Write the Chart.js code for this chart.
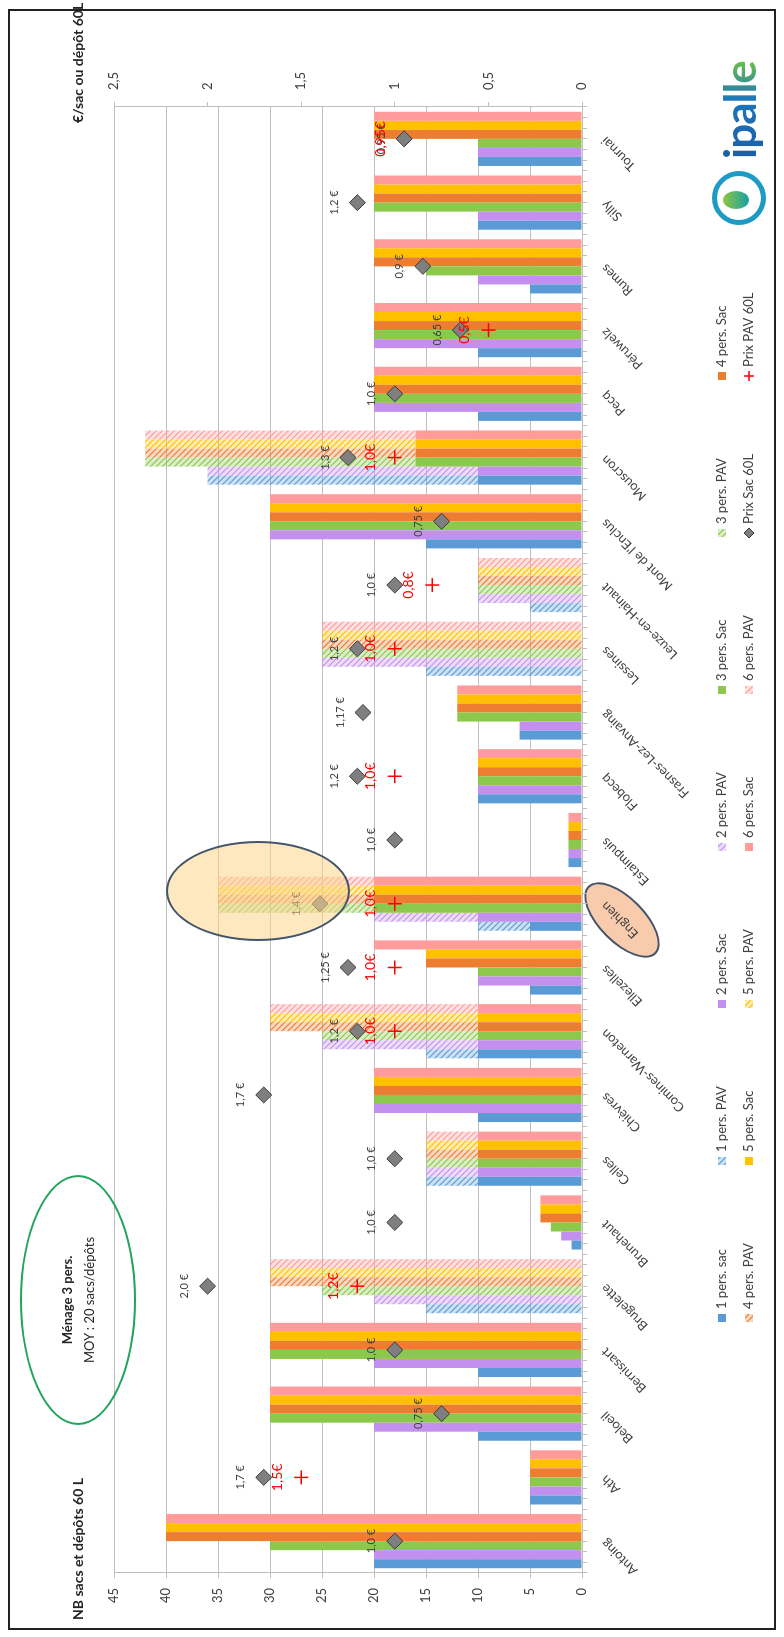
<!DOCTYPE html>
<html>
<head>
<meta charset="utf-8">
<script src="https://cdn.jsdelivr.net/npm/chart.js@4.4.1/dist/chart.umd.min.js"></script>
<style>
    html, body { margin: 0; padding: 0; background: #fff; }
    body { width: 784px; height: 1637px; overflow: hidden; position: relative; font-family: Lato, sans-serif; }
    /* the chart is drawn landscape, then turned a quarter to the left */
    #sheet { position: absolute; left: 0; top: 0; width: 1637px; height: 784px; background: #fff;
             transform-origin: 0 0; transform: translate(0, 1637px) rotate(-90deg); }
    #frame { position: absolute; left: 7px; top: 8px; width: 1617px; height: 764px; border: 2px solid #222; }
    #chart { position: absolute; left: 0; top: 0; }
    .tag { position: absolute; left: 669px; top: 599px; width: 92px; height: 42px; border-radius: 50%;
           background: #f8cbad; border: 2px solid #44546a; transform: rotate(-45deg); }
    .hilite { position: absolute; left: 696px; top: 166px; width: 100px; height: 184px; border-radius: 50%;
              background: rgba(252, 214, 140, 0.55); border: 2px solid #44546a; box-sizing: border-box; }
    .menage { position: absolute; left: 212px; top: 20px; width: 250px; height: 116px; border-radius: 50%;
              border: 2px solid #22a45d; box-sizing: border-box; display: flex; flex-direction: column;
              justify-content: center; align-items: center; font-size: 13px; color: #262626; line-height: 22px; }
    .menage b { font-size: 13px; }
    .title { position: absolute; top: 69px; font-size: 14px; font-weight: bold; color: #262626; white-space: nowrap; }
    .logo { position: absolute; left: 1412px; top: 711px; height: 56px; display: flex; align-items: center; }
    .ring { width: 44px; height: 44px; border-radius: 50%; border: 5px solid #1d9bc4; position: relative; }
    .ring::after { content: ''; position: absolute; left: 11px; top: 6px; width: 18px; height: 26px; border-radius: 50%;
                   background: linear-gradient(#8dc63f, #1aa0a8); }
    .logo span { margin-left: 12px; font-size: 44px; font-weight: bold; letter-spacing: -1px;
                 background: linear-gradient(90deg, #1b5fa8, #1b75bb 60%, #6cbf4a); -webkit-background-clip: text;
                 background-clip: text; color: transparent; }
</style>
</head>
<body>
<div id="sheet">
    <div id="frame"></div>
    <div class="tag"></div>
    <canvas id="chart" width="1637" height="784"></canvas>
    <div class="hilite"></div>
    <div class="menage"><b>Ménage 3 pers.</b><span>MOY : 20 sacs/dépôts</span></div>
    <div class="title" style="left:17px">NB sacs et dépôts 60 L</div>
    <div class="title" style="left:1514px">€/sac ou dépôt 60L</div>
    <div class="logo"><div class="ring"></div><span>ipalle</span></div>
</div>
<script>
const communes = ['Antoing', 'Ath', 'Beloeil', 'Bernissart', 'Brugelette', 'Brunehaut', 'Celles', 'Chièvres',
    'Comines-Warneton', 'Ellezelles', 'Enghien', 'Estaimpuis', 'Flobecq', 'Frasnes-Lez-Anvaing', 'Lessines',
    'Leuze-en-Hainaut', "Mont de l'Enclus", 'Mouscron', 'Pecq', 'Péruwelz', 'Rumes', 'Silly', 'Tournai'];

// sacs per household size
const sac1 = [20, 5, 10, 10, 0, 1, 10, 10, 10, 5, 5, 1.3, 10, 6, 0, 0, 15, 10, 10, 10, 5, 10, 10];
const sac2 = [20, 5, 20, 20, 0, 2, 10, 20, 10, 10, 10, 1.3, 10, 6, 0, 0, 30, 10, 20, 20, 10, 10, 10];
const sac3 = [30, 5, 30, 30, 0, 3, 10, 20, 10, 10, 20, 1.3, 10, 12, 0, 0, 30, 16, 20, 20, 15, 20, 10];
const sac4 = [40, 5, 30, 30, 0, 4, 10, 20, 10, 15, 20, 1.3, 10, 12, 0, 0, 30, 16, 20, 20, 20, 20, 20];
const sac5 = [40, 5, 30, 30, 0, 4, 10, 20, 10, 15, 20, 1.3, 10, 12, 0, 0, 30, 16, 20, 20, 20, 20, 20];
const sac6 = [40, 5, 30, 30, 0, 4, 10, 20, 10, 20, 20, 1.3, 10, 12, 0, 0, 30, 16, 20, 20, 20, 20, 20];

// dépôts PAV per household size
const pav1 = [0, 0, 0, 0, 15, 0, 5, 0, 5, 0, 5, 0, 0, 0, 15, 5, 0, 26, 0, 0, 0, 0, 0];
const pav2 = [0, 0, 0, 0, 20, 0, 5, 0, 15, 0, 10, 0, 0, 0, 25, 10, 0, 26, 0, 0, 0, 0, 0];
const pav3 = [0, 0, 0, 0, 25, 0, 5, 0, 15, 0, 15, 0, 0, 0, 25, 10, 0, 26, 0, 0, 0, 0, 0];
const pav4 = [0, 0, 0, 0, 30, 0, 5, 0, 20, 0, 15, 0, 0, 0, 25, 10, 0, 26, 0, 0, 0, 0, 0];
const pav5 = [0, 0, 0, 0, 30, 0, 5, 0, 20, 0, 15, 0, 0, 0, 25, 10, 0, 26, 0, 0, 0, 0, 0];
const pav6 = [0, 0, 0, 0, 30, 0, 5, 0, 20, 0, 15, 0, 0, 0, 25, 10, 0, 26, 0, 0, 0, 0, 0];

// prices (right axis)
const prixSac = [1.0, 1.7, 0.75, 1.0, 2.0, 1.0, 1.0, 1.7, 1.2, 1.25, 1.4, 1.0, 1.2, 1.17, 1.2, 1.0, 0.75, 1.25, 1.0, 0.65, 0.85, 1.2, 0.95];
const prixPav = [null, 1.5, null, null, 1.2, null, null, null, 1.0, 1.0, 1.0, null, 1.0, null, 1.0, 0.8, null, 1.0, null, 0.5, null, null, 0.95];
const prixSacText = ['1,0 €', '1,7 €', '0,75 €', '1,0 €', '2,0 €', '1,0 €', '1,0 €', '1,7 €', '1,2 €', '1,25 €', '1,4 €', '1,0 €',
    '1,2 €', '1,17 €', '1,2 €', '1,0 €', '0,75 €', '1,3 €', '1,0 €', '0,65 €', '0,9 €', '1,2 €', '0,95 €'];
const prixPavText = ['', '1,5€', '', '', '1,2€', '', '', '', '1,0€', '1,0€', '1,0€', '', '1,0€', '', '1,0€', '0,8€', '',
    '1,0€', '', '0,5€', '', '', '0,95€'];

const leftTicks = [0, 5, 10, 15, 20, 25, 30, 35, 40, 45];
const rightTicks = ['0', '0,5', '1', '1,5', '2', '2,5'];

const sacNames = ['1 pers. sac', '2 pers. Sac', '3 pers. Sac', '4 pers. Sac', '5 pers. Sac', '6 pers. Sac'];
const pavNames = ['1 pers. PAV', '2 pers. PAV', '3 pers. PAV', '4 pers. PAV', '5 pers. PAV', '6 pers. PAV'];
const colors = ['#5b9bd5', '#c490f0', '#8cc84b', '#ed7d31', '#ffc000', '#ff9b9b'];

function hatch(color) {
    const c = document.createElement('canvas');
    c.width = 6; c.height = 6;
    const g = c.getContext('2d');
    g.globalAlpha = 0.3;
    g.fillStyle = color;
    g.fillRect(0, 0, 6, 6);
    g.globalAlpha = 1;
    g.strokeStyle = color;
    g.lineWidth = 1.2;
    g.beginPath();
    g.moveTo(0, 0); g.lineTo(6, 6);
    g.moveTo(5, -1); g.lineTo(7, 1);
    g.moveTo(-1, 5); g.lineTo(1, 7);
    g.stroke();
    return g.createPattern(c, 'repeat');
}

/* --- datasets --- */
const sacs = [sac1, sac2, sac3, sac4, sac5, sac6];
const pavs = [pav1, pav2, pav3, pav4, pav5, pav6];
const datasets = [];
for (let i = 0; i < 6; i++) {
    const common = { type: 'bar', stack: 'p' + (i + 1), xAxisID: 'x', yAxisID: 'y', borderWidth: 0,
        categoryPercentage: 0.85, barPercentage: 1, order: 1 };
    datasets.push(Object.assign({ label: sacNames[i], data: sacs[i], backgroundColor: colors[i] }, common));
    datasets.push(Object.assign({ label: pavNames[i], data: pavs[i], backgroundColor: hatch(colors[i]) }, common));
}
datasets.push({ type: 'line', label: 'Prix Sac 60L', data: prixSac, xAxisID: 'x', yAxisID: 'y2', showLine: false,
    pointStyle: 'rectRot', pointRadius: 8, pointBackgroundColor: '#7f7f7f', pointBorderColor: '#3a3a3a',
    pointBorderWidth: 1, order: 0 });
datasets.push({ type: 'line', label: 'Prix PAV 60L', data: prixPav, xAxisID: 'x', yAxisID: 'y2', showLine: false,
    pointStyle: 'cross', pointRadius: 7, pointBorderColor: '#ff0000', pointBorderWidth: 1.5, order: 0 });

/* --- price labels over the markers --- */
const priceLabels = {
    id: 'priceLabels',
    afterDatasetsDraw(chart) {
        const ctx = chart.ctx;
        const sets = [[12, prixSacText, '#404040', '11px Lato', 23], [13, prixPavText, '#ff0000', '14px Lato', 24]];
        ctx.save();
        ctx.textAlign = 'center';
        ctx.textBaseline = 'middle';
        sets.forEach(([idx, texts, color, font, off]) => {
            ctx.fillStyle = color;
            ctx.font = font;
            chart.getDatasetMeta(idx).data.forEach((pt, i) => {
                if (!texts[i] || pt.skip) return;
                ctx.fillText(texts[i], pt.x, pt.y - off);
            });
        });
        ctx.restore();
    }
};

/* --- legend: two rows of seven --- */
const legendRows = {
    id: 'legendRows',
    afterDraw(chart) {
        const ctx = chart.ctx;
        ctx.save();
        ctx.font = '13px Lato';
        ctx.textBaseline = 'middle';
        chart.data.datasets.forEach((ds, i) => {
            const x = 315 + (i % 7) * 157;
            const y = i < 7 ? 722 : 749;
            if (ds.type === 'bar') {
                ctx.fillStyle = ds.backgroundColor;
                ctx.fillRect(x, y - 4, 8, 8);
            } else if (ds.pointStyle === 'rectRot') {
                ctx.fillStyle = ds.pointBackgroundColor;
                ctx.strokeStyle = ds.pointBorderColor;
                ctx.beginPath();
                ctx.moveTo(x + 4, y - 5); ctx.lineTo(x + 9, y); ctx.lineTo(x + 4, y + 5); ctx.lineTo(x - 1, y);
                ctx.closePath(); ctx.fill(); ctx.stroke();
            } else {
                ctx.strokeStyle = ds.pointBorderColor;
                ctx.lineWidth = 1.5;
                ctx.beginPath();
                ctx.moveTo(x - 1, y); ctx.lineTo(x + 9, y); ctx.moveTo(x + 4, y - 5); ctx.lineTo(x + 4, y + 5);
                ctx.stroke();
            }
            ctx.fillStyle = '#404040';
            ctx.fillText(ds.label, x + 13, y);
        });
        ctx.restore();
    }
};

Chart.defaults.font.family = 'Lato';
Chart.defaults.color = '#404040';

new Chart(document.getElementById('chart'), {
    data: { labels: communes, datasets: datasets },
    options: {
        responsive: false,
        animation: false,
        layout: { padding: { left: 19, right: 55, top: 114, bottom: 16 } },
        plugins: { legend: { display: false }, tooltip: { enabled: false } },
        scales: {
            x: {
                type: 'category', stacked: true, position: 'bottom', weight: 1,
                grid: { display: false }, border: { display: false },
                ticks: { minRotation: 45, maxRotation: 45, autoSkip: false, padding: 2, font: { size: 13 } },
                afterFit: s => { s.height = 180; }
            },
            xt: {
                type: 'linear', position: 'bottom', weight: 0, min: 0, max: communes.length * 6,
                grid: { drawOnChartArea: false, tickLength: 5, color: '#bfbfbf' },
                border: { color: '#bfbfbf' },
                ticks: { display: false, stepSize: 1, autoSkip: false, maxTicksLimit: 500 },
                afterFit: s => { s.height = 6; }
            },
            y: {
                stacked: true, position: 'left', min: 0, max: 45,
                afterBuildTicks: s => { s.ticks = leftTicks.map(v => ({ value: v })); },
                ticks: { padding: 10, font: { size: 13 } },
                grid: { color: '#bfbfbf', tickLength: 5 },
                border: { color: '#bfbfbf' },
                afterFit: s => { s.width = 45; }
            },
            y2: {
                position: 'right', min: 0, max: 2.5,
                afterBuildTicks: s => { s.ticks = rightTicks.map(t => ({ value: parseFloat(t.replace(',', '.')) })); },
                ticks: { padding: 12, font: { size: 13 }, callback: (v, i) => rightTicks[i] },
                grid: { drawOnChartArea: false, color: '#bfbfbf', tickLength: 5 },
                border: { color: '#bfbfbf' },
                afterFit: s => { s.width = 52; }
            }
        }
    },
    plugins: [priceLabels, legendRows]
});
</script>
</body>
</html>
